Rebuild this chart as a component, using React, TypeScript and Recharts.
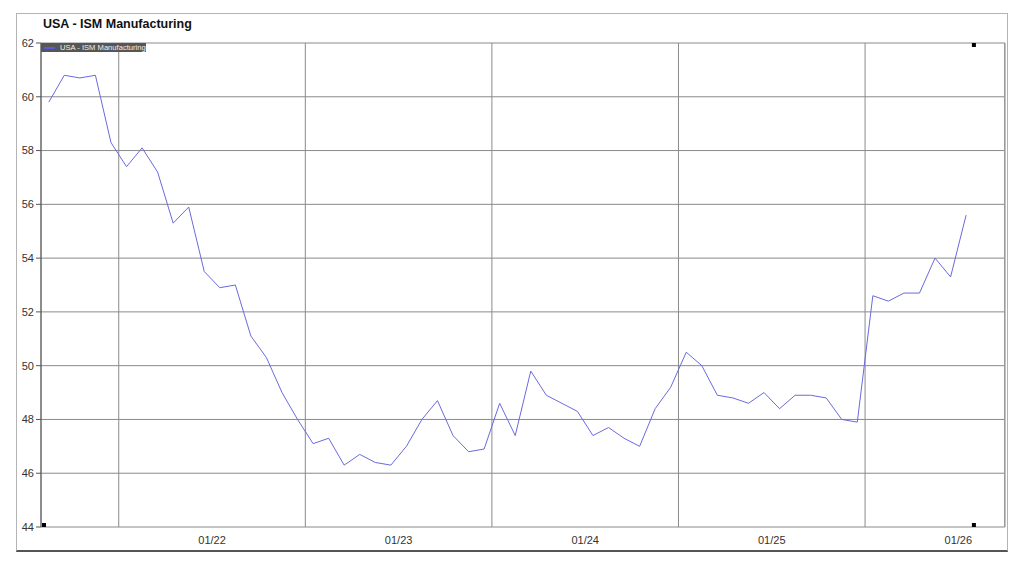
import React from "react";
import { LineChart, Line, XAxis, YAxis, CartesianGrid, ReferenceDot } from "recharts";

const chartTitle = "USA - ISM Manufacturing";
const seriesName = "USA - ISM Manufacturing";

const months = [
  "2021-08", "2021-09", "2021-10", "2021-11", "2021-12",
  "2022-01", "2022-02", "2022-03", "2022-04", "2022-05", "2022-06",
  "2022-07", "2022-08", "2022-09", "2022-10", "2022-11", "2022-12",
  "2023-01", "2023-02", "2023-03", "2023-04", "2023-05", "2023-06",
  "2023-07", "2023-08", "2023-09", "2023-10", "2023-11", "2023-12",
  "2024-01", "2024-02", "2024-03", "2024-04", "2024-05", "2024-06",
  "2024-07", "2024-08", "2024-09", "2024-10", "2024-11", "2024-12",
  "2025-01", "2025-02", "2025-03", "2025-04", "2025-05", "2025-06",
  "2025-07", "2025-08", "2025-09", "2025-10", "2025-11", "2025-12",
  "2026-01", "2026-02", "2026-03", "2026-04", "2026-05", "2026-06",
  "2026-07",
];

const ismValues = [
  59.8, 60.8, 60.7, 60.8, 58.3,
  57.4, 58.1, 57.2, 55.3, 55.9, 53.5,
  52.9, 53.0, 51.1, 50.3, 49.0, 48.0,
  47.1, 47.3, 46.3, 46.7, 46.4, 46.3,
  47.0, 48.0, 48.7, 47.4, 46.8, 46.9,
  48.6, 47.4, 49.8, 48.9, 48.6, 48.3,
  47.4, 47.7, 47.3, 47.0, 48.4, 49.2,
  50.5, 50.0, 48.9, 48.8, 48.6, 49.0,
  48.4, 48.9, 48.9, 48.8, 48.0, 47.9,
  52.6, 52.4, 52.7, 52.7, 54.0, 53.3,
  55.6,
];

const yTicks = [44, 46, 48, 50, 52, 54, 56, 58, 60, 62];
const yearStarts = ["2022-01", "2023-01", "2024-01", "2025-01", "2026-01"];
const yearLabels = ["01/22", "01/23", "01/24", "01/25", "01/26"];

const data = months.map((m, i) => ({ t: i, month: m, value: ismValues[i] }));

const xDomain: [number, number] = [-0.5, 61.5];
const yDomain: [number, number] = [yTicks[0], yTicks[yTicks.length - 1]];
const boundaryTicks = yearStarts.map((m) => months.indexOf(m) - 0.5);
const labelTicks = boundaryTicks.map((b) => b + 6);

const FONT = "'Liberation Sans', Arial, sans-serif";
const LINE_COLOR = "#6a6ade";
const GRID_COLOR = "#8a8a8a";

const squareShape = (dx: number, dy: number) => (props: any) => (
  <rect x={props.cx + dx} y={props.cy + dy} width={4} height={4} fill="#000" />
);

const emptyTick = () => <g />;

const markerX = data.length - 0.5;

export default function App() {
  return (
    <div
      style={{
        position: "fixed",
        left: 0,
        top: 0,
        width: 1024,
        height: 564,
        background: "#fff",
        fontFamily: FONT,
      }}
    >
      <div
        style={{
          position: "absolute",
          left: 16,
          top: 13,
          width: 992,
          height: 539,
          boxSizing: "border-box",
          borderTop: "1px solid #b4b4b4",
          borderLeft: "1px solid #b4b4b4",
          borderRight: "1px solid #b4b4b4",
          borderBottom: "2px solid #555",
        }}
      />
      <div
        style={{
          position: "absolute",
          left: 43,
          top: 17.7,
          fontSize: 12.5,
          lineHeight: 1,
          fontWeight: "bold",
          color: "#111",
          whiteSpace: "nowrap",
        }}
      >
        {chartTitle}
      </div>
      <div style={{ position: "absolute", left: 0, top: 0 }}>
        <LineChart
          width={1024}
          height={564}
          data={data}
          margin={{ top: 43, right: 19, bottom: 7, left: 0 }}
          style={{ fontFamily: FONT }}
        >
          <XAxis
            xAxisId="grid"
            dataKey="t"
            type="number"
            domain={xDomain}
            ticks={boundaryTicks}
            allowDataOverflow
            interval={0}
            tick={emptyTick}
            tickSize={4}
            tickLine={{ stroke: GRID_COLOR }}
            axisLine={{ stroke: "#777" }}
            height={0}
          />
          <XAxis
            xAxisId="labels"
            dataKey="t"
            type="number"
            domain={xDomain}
            ticks={labelTicks}
            allowDataOverflow
            tickFormatter={(v: number) => yearLabels[labelTicks.indexOf(v)] ?? ""}
            axisLine={false}
            tickLine={false}
            tickMargin={3}
            tick={{ fill: "#333", fontSize: 11 }}
            height={30}
            interval={0}
          />
          <YAxis
            type="number"
            domain={yDomain}
            ticks={yTicks}
            allowDataOverflow
            interval={0}
            width={41}
            tickSize={5}
            tickMargin={2}
            axisLine={{ stroke: "#555" }}
            tickLine={{ stroke: "#555" }}
            tick={{ fill: "#333", fontSize: 11 }}
          />
          <CartesianGrid xAxisId="grid" stroke={GRID_COLOR} strokeWidth={1} />
          <Line
            xAxisId="grid"
            type="linear"
            dataKey="value"
            name={seriesName}
            stroke={LINE_COLOR}
            strokeWidth={1}
            dot={false}
            activeDot={false}
            isAnimationActive={false}
          />
          <ReferenceDot
            xAxisId="grid"
            x={xDomain[0]}
            y={yDomain[0]}
            ifOverflow="visible"
            shape={squareShape(1, -4)}
          />
          <ReferenceDot
            xAxisId="grid"
            x={markerX}
            y={yDomain[0]}
            ifOverflow="visible"
            shape={squareShape(-2, -4)}
          />
          <ReferenceDot
            xAxisId="grid"
            x={markerX}
            y={yDomain[1]}
            ifOverflow="visible"
            shape={squareShape(-2, 0)}
          />
        </LineChart>
      </div>
      <div
        style={{
          position: "absolute",
          left: 1004,
          top: 43,
          width: 0,
          height: 484,
          borderRight: "1px solid #9a9a9a",
        }}
      />
      <div
        style={{
          position: "absolute",
          left: 41,
          top: 43,
          width: 105,
          height: 9,
          background: "#565656",
          display: "flex",
          alignItems: "center",
          overflow: "hidden",
        }}
      >
        <div style={{ width: 11, height: 2, background: "#5b5bd6", marginLeft: 3, marginRight: 5 }} />
        <span style={{ color: "#f0f0f0", fontSize: 7.6, lineHeight: "9px", whiteSpace: "nowrap" }}>
          {seriesName}
        </span>
      </div>
    </div>
  );
}
